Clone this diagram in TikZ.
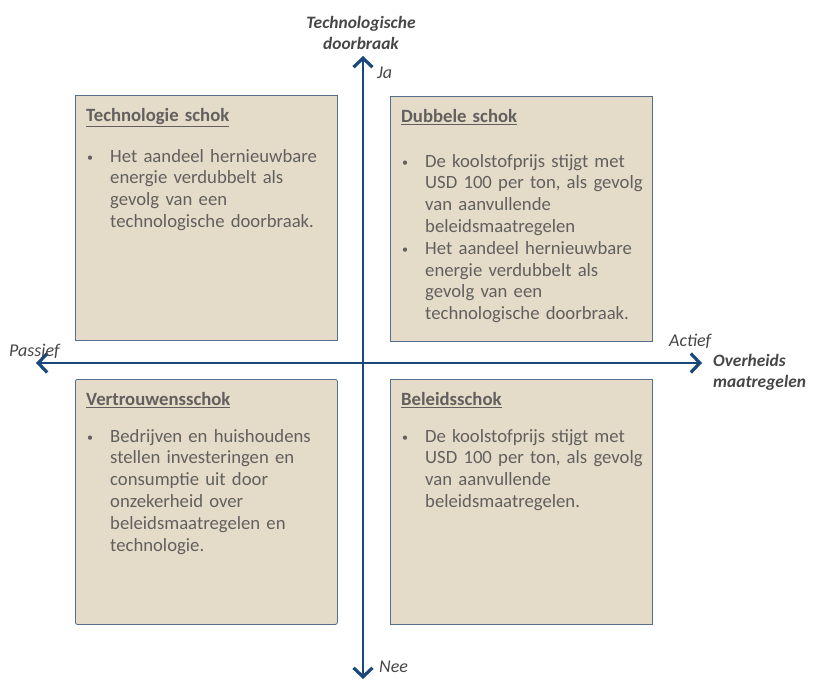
\documentclass[tikz,border=0pt]{standalone}
\usepackage{fontspec}
\setmainfont{Carlito}
\usetikzlibrary{positioning, arrows.meta}
\definecolor{kaderbeige}{RGB}{228,219,200}
\definecolor{kaderrand}{RGB}{84,110,140}
\definecolor{tekstgrijs}{RGB}{98,96,94}
\definecolor{asblauw}{RGB}{26,72,122}
\definecolor{labelgrijs}{RGB}{70,70,70}
\newcommand{\kop}[1]{\textbf{\underline{#1}}\par}
\newcommand{\punt}[1]{\par\noindent\hangindent=24pt\hangafter=1%
  \makebox[24pt][l]{\hspace{1pt}\raisebox{1pt}{\fontsize{12}{12}\selectfont\textbullet}}%
  {\let\\\newline #1}\par}

\begin{document}
\begin{tikzpicture}[
  x=1pt, y=-1pt,
  kader/.style={draw=kaderrand, line width=0.8pt, fill=kaderbeige, anchor=north west,
    minimum width=262pt, minimum height=245pt, inner sep=0pt},
  inhoud/.style={anchor=north west, inner sep=0pt, text width=250pt, text=tekstgrijs,
    font=\fontsize{18.7}{21.8}\selectfont},
  as/.style={draw=asblauw, line width=2.8pt,
    {Straight Barb[length=9pt, width=19pt, line width=3.2pt]}-{Straight Barb[length=9pt, width=19pt, line width=3.2pt]}},
  pool/.style={font=\fontsize{18}{20}\selectfont\itshape, text=labelgrijs, inner sep=0pt},
  askop/.style={font=\fontsize{17.4}{21}\selectfont\bfseries\itshape, text=labelgrijs, inner sep=0pt}
]
  \useasboundingbox (0,0) rectangle (817,680);

  % Quadrants
  \node[kader] (tl) at (75,95) {};
  \node[kader] (tr) at (390,96) {};
  \node[kader, rounded corners=2pt] (bl) at (75,379) {};
  \node[kader] (br) at (390,379) {};

  \node[inhoud] (tltekst) at ([shift={(11pt,-13pt)}]tl.north west) {\raggedright
    \kop{Technologie schok}\vspace{19pt}
    \punt{Het aandeel hernieuwbare\\energie verdubbelt als\\gevolg van een\\technologische doorbraak.}};
  \node[inhoud] (trtekst) at ([shift={(11pt,-13pt)}]tr.north west) {\raggedright
    \kop{Dubbele schok}\vspace{23pt}
    \punt{De koolstofprijs stijgt met\\USD 100 per ton, als gevolg\\van aanvullende\\beleidsmaatregelen}
    \punt{Het aandeel hernieuwbare\\energie verdubbelt als\\gevolg van een\\technologische doorbraak.}};
  \node[inhoud] (bltekst) at ([shift={(11pt,-13pt)}]bl.north west) {\raggedright
    \kop{Vertrouwensschok}\vspace{15pt}
    \punt{Bedrijven en huishoudens\\stellen investeringen en\\consumptie uit door\\onzekerheid over\\beleidsmaatregelen en\\technologie.}};
  \node[inhoud] (brtekst) at ([shift={(11pt,-13pt)}]br.north west) {\raggedright
    \kop{Beleidsschok}\vspace{15pt}
    \punt{De koolstofprijs stijgt met\\USD 100 per ton, als gevolg\\van aanvullende\\beleidsmaatregelen.}};

  % Axes
  \coordinate (links) at (36,363);
  \coordinate (rechts) at (702,363);
  \coordinate (boven) at (363,56);
  \coordinate (onder) at (363,679);
  \draw[as] (onder) -- (boven);
  \draw[as] (links) -- (rechts);

  % Axis labels
  \node[askop, align=center] (techdoor) at (361,33) {Technologische\\doorbraak};
  \node[pool, anchor=west] (ja) at (377,73) {Ja};
  \node[pool, anchor=west] (nee) at (379,667) {Nee};
  \node[pool, anchor=west] (passief) at (9,351) {Passief};
  \node[pool, anchor=west] (actief) at (669,341) {Actief};
  \node[askop, align=left, anchor=west] (overheid) at (713,372) {Overheids\\maatregelen};
\end{tikzpicture}
\end{document}
